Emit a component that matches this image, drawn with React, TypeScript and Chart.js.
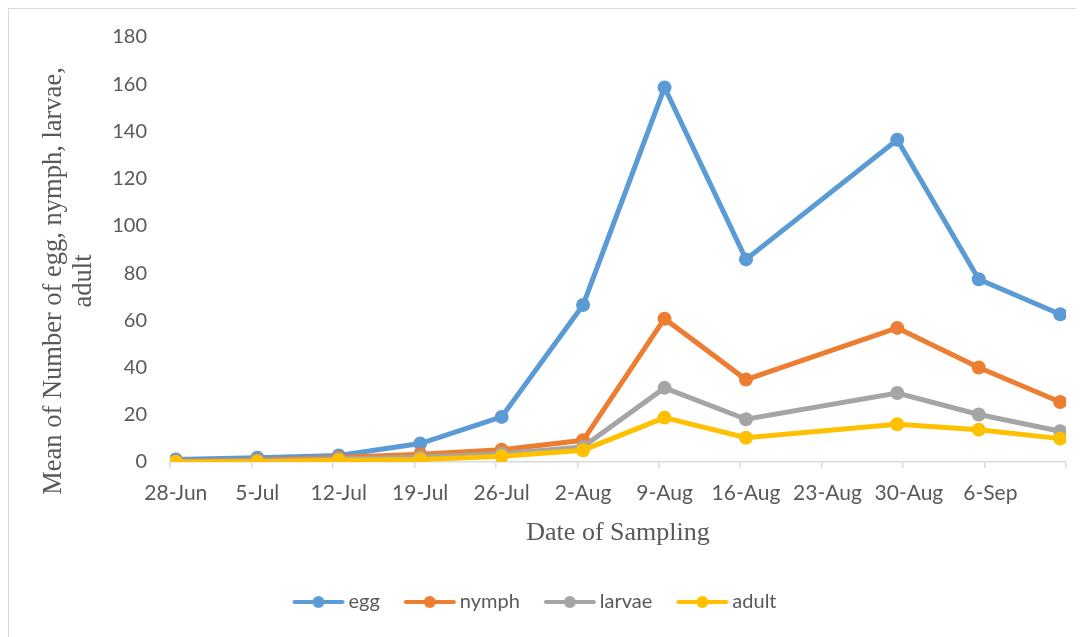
import React, { useEffect, useRef } from 'react';
import { Chart, registerables } from 'chart.js';

Chart.register(...registerables);

// ---- data ----
const sampleDates = ['28-Jun', '5-Jul', '12-Jul', '19-Jul', '26-Jul', '2-Aug', '9-Aug', '16-Aug', '29-Aug', '5-Sep', '12-Sep'];
const egg = [1.1, 1.8, 2.8, 7.8, 19.1, 66.5, 158.6, 85.8, 136.5, 77.4, 62.6];
const nymph = [0.3, 0.8, 1.9, 3.3, 5.2, 9.2, 60.7, 34.9, 56.8, 40.0, 25.4];
const larvae = [0.2, 0.5, 1.3, 2.0, 3.5, 6.4, 31.4, 18.1, 29.2, 20.1, 13.0];
const adult = [0.0, 0.1, 0.7, 1.1, 2.4, 5.0, 18.8, 10.3, 16.0, 13.7, 9.9];
const seriesNames = ['egg', 'nymph', 'larvae', 'adult'];
const seriesColors = ['#5B9BD5', '#ED7D31', '#A5A5A5', '#FFC000'];
const axisStartDate = '28-Jun';
const axisEndDate = '12-Sep';
const tickStepDays = 7;
const yMin = 0;
const yMax = 180;
const yStep = 20;
const xTitle = 'Date of Sampling';
const yTitle = ['Mean of Number of egg, nymph, larvae,', 'adult'];

const MONTHS = ['Jan', 'Feb', 'Mar', 'Apr', 'May', 'Jun', 'Jul', 'Aug', 'Sep', 'Oct', 'Nov', 'Dec'];
const MONTH_DAYS = [31, 28, 31, 30, 31, 30, 31, 31, 30, 31, 30, 31];

function dayOfYear(s: string): number {
  const [d, m] = s.split('-');
  const mi = MONTHS.indexOf(m);
  let n = 0;
  for (let i = 0; i < mi; i++) n += MONTH_DAYS[i];
  return n + parseInt(d, 10);
}
function formatDoy(doy: number): string {
  let n = doy;
  let mi = 0;
  while (n > MONTH_DAYS[mi]) {
    n -= MONTH_DAYS[mi];
    mi++;
  }
  return `${n}-${MONTHS[mi]}`;
}

const startDoy = dayOfYear(axisStartDate);
const lastDay = dayOfYear(axisEndDate) - startDoy;
const xs = sampleDates.map((d) => dayOfYear(d) - startDoy);
const GREY = '#595959';

function legendSymbol(color: string): HTMLCanvasElement {
  const c = document.createElement('canvas');
  c.width = 54;
  c.height = 14;
  const g = c.getContext('2d')!;
  g.strokeStyle = color;
  g.lineWidth = 4;
  g.lineCap = 'round';
  g.beginPath();
  g.moveTo(3, 7);
  g.lineTo(51, 7);
  g.stroke();
  g.fillStyle = color;
  g.beginPath();
  g.arc(27, 7, 6, 0, Math.PI * 2);
  g.fill();
  return c;
}

// Y-axis title drawn as rotated two-line text, Excel-style (centred slightly below the plot centre)
const yTitlePlugin = {
  id: 'yTitleCustom',
  afterDraw(chart: any) {
    const { ctx, chartArea } = chart;
    ctx.save();
    ctx.font = '26.5px "Liberation Serif", serif';
    ctx.fillStyle = GREY;
    ctx.textAlign = 'center';
    ctx.textBaseline = 'middle';
    const cy = chartArea.bottom - 181;
    yTitle.forEach((line, i) => {
      ctx.save();
      ctx.translate(45 + i * 30, cy);
      ctx.rotate(-Math.PI / 2);
      ctx.fillText(line, 0, 0);
      ctx.restore();
    });
    ctx.restore();
  },
};

export default function App() {
  const ref = useRef<HTMLCanvasElement>(null);

  useEffect(() => {
    document.documentElement.style.overflow = 'hidden';
    document.body.style.overflow = 'hidden';
    const allSeries = [egg, nymph, larvae, adult];
    const symbols = seriesColors.map(legendSymbol);
    const tickValues: number[] = [];
    for (let v = -0.5; v <= lastDay + 0.5 + 1e-9; v += tickStepDays) tickValues.push(v);
    if (tickValues[tickValues.length - 1] < lastDay + 0.5) tickValues.push(lastDay + 0.5);

    const chart = new Chart(ref.current!, {
      type: 'line',
      data: {
        datasets: allSeries.map((vals, i) => ({
          label: seriesNames[i],
          data: vals.map((y, j) => ({ x: xs[j], y })),
          borderColor: seriesColors[i],
          backgroundColor: seriesColors[i],
          pointBackgroundColor: seriesColors[i],
          pointBorderColor: seriesColors[i],
          pointRadius: 7,
          pointBorderWidth: 0,
          borderWidth: 5,
          tension: 0,
          order: allSeries.length - 1 - i,
        })),
      },
      plugins: [yTitlePlugin],
      options: {
        responsive: false,
        animation: false,
        layout: { padding: { left: 0, right: 18, top: 28, bottom: 15 } },
        plugins: {
          tooltip: { enabled: false },
          legend: {
            position: 'bottom',
            labels: {
              usePointStyle: true,
              pointStyleWidth: 40,
              boxHeight: 12,
              padding: 30,
              color: GREY,
              font: { family: 'Lato', size: 20 },
              sort: (a: any, b: any) => a.datasetIndex - b.datasetIndex,
              generateLabels: (ch: any) => {
                const items = (Chart.defaults.plugins.legend.labels as any).generateLabels(ch);
                return items.map((it: any) => ({ ...it, pointStyle: symbols[it.datasetIndex] }));
              },
            },
          },
        },
        scales: {
          x: {
            type: 'linear',
            min: -0.5,
            max: lastDay + 0.5,
            afterBuildTicks: (s: any) => {
              s.ticks = tickValues.map((v) => ({ value: v }));
            },
            afterFit: (s: any) => {
              s.height = 100;
            },
            ticks: {
              autoSkip: false,
              maxRotation: 0,
              labelOffset: 5.8,
              padding: 13,
              color: GREY,
              font: { family: 'Lato', size: 21 },
              callback: (v: any) => {
                const day = Number(v) + 0.5;
                if (day > lastDay) return '';
                return formatDoy(startDoy + day);
              },
            },
            grid: { drawOnChartArea: false, drawTicks: true, tickLength: 6, color: '#d9d9d9', lineWidth: 1.5 },
            border: { color: '#d9d9d9', width: 1.5 },
            title: {
              display: true,
              text: xTitle,
              color: GREY,
              font: { family: 'Liberation Serif', size: 26 },
              padding: { top: 0, bottom: 13 },
            },
          },
          y: {
            min: yMin,
            max: yMax,
            afterFit: (s: any) => {
              s.width = 161;
            },
            ticks: { stepSize: yStep, padding: 23, color: GREY, font: { family: 'Lato', size: 20, lineHeight: 0.5 } },
            grid: { display: false, drawTicks: false },
            border: { display: false },
            title: { display: false },
          },
        },
      },
    } as any);
    return () => chart.destroy();
  }, []);

  return (
    <div
      style={{
        position: 'relative',
        width: 1075,
        height: 628,
        borderLeft: '1px solid #d9d9d9',
        borderTop: '1px solid #d9d9d9',
        background: '#fff',
      }}
    >
      <canvas ref={ref} width={1075} height={628} style={{ display: 'block', width: 1075, height: 628 }} />
    </div>
  );
}
